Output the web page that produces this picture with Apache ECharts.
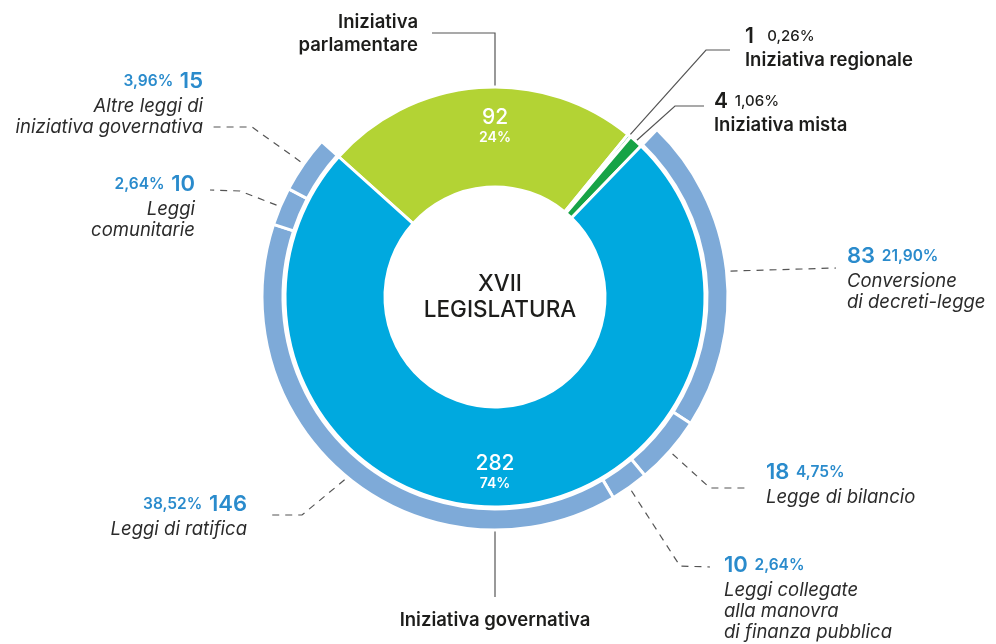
<!DOCTYPE html>
<html>
<head>
<meta charset="utf-8">
<script src="https://cdn.jsdelivr.net/npm/echarts@6/dist/echarts.min.js"></script>
<style>
  html, body { margin: 0; padding: 0; background: #fff; }
  #main { width: 996px; height: 644px; }
</style>
</head>
<body>
<div id="main"></div>
<script>
// anello interno: iniziativa dei disegni di legge
var iniziativaNomi = ['Iniziativa parlamentare', 'Iniziativa regionale', 'Iniziativa mista', 'Iniziativa governativa'];
var iniziativaValori = [92, 1, 4, 282];
// anello esterno: dettaglio dell'iniziativa governativa
var governoNomi = ['Conversione\ndi decreti-legge', 'Legge di bilancio', 'Leggi collegate\nalla manovra\ndi finanza pubblica',
  'Leggi di ratifica', 'Leggi\ncomunitarie', 'Altre leggi di\niniziativa governativa'];
var governoValori = [83, 18, 10, 146, 10, 15];
var titoloCentro = 'XVII\nLEGISLATURA';

var FONT = 'Inter, "Open Sans", sans-serif';
var CX = 495, CY = 297;
var START = -48.1; // angolo (da nord, orario) dove inizia l'iniziativa parlamentare

var totale = iniziativaValori.reduce(function (a, b) { return a + b; }, 0);
var totaleGoverno = governoValori.reduce(function (a, b) { return a + b; }, 0);

function perc(v, dec) {
  return (v / totale * 100).toFixed(dec).replace('.', ',');
}
// angoli medi delle fette, in gradi da nord in senso orario
function angoliMedi(valori, inizio) {
  var a = inizio, out = [];
  valori.forEach(function (v) {
    var s = v / totale * 360;
    out.push(a + s / 2);
    a += s;
  });
  return out;
}
function punto(ang, r) {
  var t = ang * Math.PI / 180;
  return [CX + r * Math.sin(t), CY - r * Math.cos(t)];
}

var midInterno = angoliMedi(iniziativaValori, START);
var midEsterno = angoliMedi([totale - totaleGoverno].concat(governoValori), START).slice(1);

// posizione delle etichette esterne dell'anello interno
var layInterno = [
  { x: 418, y: 11, align: 'right', ang: 0, r: 210, line: [[495, 33], [432, 33]] },
  { x: 745, y: 24, align: 'left', r: 211, line: [[706, 50], [730, 50]] },
  { x: 714, y: 89, align: 'left', r: 211, line: [[675, 106], [704, 106]] },
  { x: 495, y: 609, align: 'center', ang: 180, r: 233, line: [[495, 597], [495, 597]] }
];
// posizione delle etichette dell'anello esterno
var layEsterno = [
  { x: 847, y: 241, align: 'left', line: [[836, 268], [836, 268]] },
  { x: 766, y: 457, align: 'left', line: [[710, 488], [750, 488]] },
  { x: 724, y: 550, align: 'left', line: [[680, 566], [710, 567]] },
  { x: 247, y: 489, align: 'right', line: [[302, 515], [268, 515]] },
  { x: 195, y: 169, align: 'right', line: [[240, 191], [210, 190]] },
  { x: 203, y: 66, align: 'right', line: [[252, 127], [213, 127]] }
];

var blu = '#2a8bcc';
var richEsterno = {
  num: { fontFamily: FONT, fontSize: 22, fontWeight: 600, color: blu, lineHeight: 30 },
  pct: { fontFamily: FONT, fontSize: 15.5, fontWeight: 600, color: blu, lineHeight: 30 },
  it: { fontFamily: FONT, fontSize: 18.5, fontStyle: 'italic', color: '#2b2b2b', lineHeight: 21 }
};
var richInterno = {
  b: { fontFamily: FONT, fontSize: 18.5, fontWeight: 600, color: '#1d1d1b', lineHeight: 23 },
  n: { fontFamily: FONT, fontSize: 21, fontWeight: 600, color: '#1d1d1b', lineHeight: 25 },
  p: { fontFamily: FONT, fontSize: 15, fontWeight: 500, color: '#1d1d1b', lineHeight: 25 }
};

function righe(nome, stile) {
  return nome.split('\n').map(function (s) { return '{' + stile + '|' + s + '}'; }).join('\n');
}

var coloriInterno = ['#b3d334', '#17a346', '#17a346', '#00a9df'];

var datiInterno = iniziativaValori.map(function (v, i) {
  return { value: v, name: iniziativaNomi[i], itemStyle: { color: coloriInterno[i] } };
});

var datiEsterno = [{
  value: totale - totaleGoverno, name: 'altro',
  itemStyle: { color: 'transparent', borderWidth: 0 },
  label: { show: false }, labelLine: { show: false }
}].concat(governoValori.map(function (v, i) {
  return { value: v, name: governoNomi[i] };
}));

var myChart = echarts.init(document.getElementById('main'));
var option = {
  backgroundColor: '#fff',
  animation: false,
  title: {
    text: titoloCentro,
    left: CX, top: CY - 5,
    textAlign: 'center', textVerticalAlign: 'middle',
    textStyle: { fontFamily: FONT, fontSize: 22.5, fontWeight: 500, color: '#1d1d1b', lineHeight: 26 }
  },
  series: [
    {
      // anello interno con i valori
      type: 'pie', silent: true, startAngle: 90 - START, clockwise: true,
      center: [CX, CY], radius: [110, 210], avoidLabelOverlap: false,
      itemStyle: { borderColor: '#fff', borderWidth: 3 },
      label: {
        show: true, position: 'inside',
        formatter: function (p) {
          if (p.dataIndex === 1 || p.dataIndex === 2) return '';
          return '{n|' + p.value + '}\n{p|' + perc(p.value, 0) + '%}';
        },
        rich: {
          n: { fontFamily: FONT, fontSize: 21, fontWeight: 500, color: '#fff', lineHeight: 22 },
          p: { fontFamily: FONT, fontSize: 14, fontWeight: 600, color: '#fff', lineHeight: 18 }
        }
      },
      labelLine: { show: false },
      labelLayout: function (p) {
        if (p.dataIndex === 1 || p.dataIndex === 2) return {};
        var y = p.dataIndex === 0 ? 127 : 473;
        return { x: CX, y: y, align: 'center', verticalAlign: 'middle' };
      },
      data: datiInterno
    },
    {
      // anello esterno: dettaglio governativo
      type: 'pie', silent: true, startAngle: 90 - START, clockwise: true,
      center: [CX, CY], radius: [212, 233], avoidLabelOverlap: false,
      itemStyle: { borderColor: '#fff', borderWidth: 3, color: '#7eaad8' },
      label: {
        show: true, position: 'outside',
        formatter: function (p) {
          var i = p.dataIndex - 1;
          if (i < 0) return '';
          var num = '{num|' + p.value + '}', pc = '{pct|' + perc(p.value, 2) + '%}';
          var prima = layEsterno[i].align === 'right' ? pc + '  ' + num : num + '  ' + pc;
          return prima + '\n' + righe(governoNomi[i], 'it');
        },
        rich: richEsterno
      },
      labelLine: { show: true, lineStyle: { color: '#555', width: 1.2, type: [7, 6] } },
      labelLayout: function (p) {
        var i = p.dataIndex - 1;
        if (i < 0) return {};
        var l = layEsterno[i];
        return {
          x: l.x, y: l.y, align: l.align, verticalAlign: 'top',
          labelLinePoints: [punto(midEsterno[i], 224), l.line[0], l.line[1]]
        };
      },
      data: datiEsterno
    },
    {
      // etichette esterne dell'anello interno
      type: 'pie', silent: true, startAngle: 90 - START, clockwise: true,
      center: [CX, CY], radius: [110, 210], avoidLabelOverlap: false,
      itemStyle: { color: 'transparent' },
      label: {
        show: true, position: 'outside',
        formatter: function (p) {
          var i = p.dataIndex;
          if (i === 0 || i === 3) {
            var nome = i === 0 ? iniziativaNomi[i].replace(' ', '\n') : iniziativaNomi[i];
            return righe(nome, 'b');
          }
          var sp = i === 1 ? '    ' : '  ';
          return '{n|' + p.value + '}' + sp + '{p|' + perc(p.value, 2) + '%}\n' + righe(iniziativaNomi[i], 'b');
        },
        rich: richInterno
      },
      labelLine: { show: true, lineStyle: { color: '#555', width: 1.2 } },
      labelLayout: function (p) {
        var l = layInterno[p.dataIndex];
        var ang = l.ang !== undefined ? l.ang : midInterno[p.dataIndex];
        return {
          x: l.x, y: l.y, align: l.align, verticalAlign: 'top',
          labelLinePoints: [punto(ang, l.r), l.line[0], l.line[1]]
        };
      },
      data: datiInterno.map(function (d) { return { value: d.value, name: d.name }; })
    }
  ]
};
myChart.setOption(option);
</script>
</body>
</html>
